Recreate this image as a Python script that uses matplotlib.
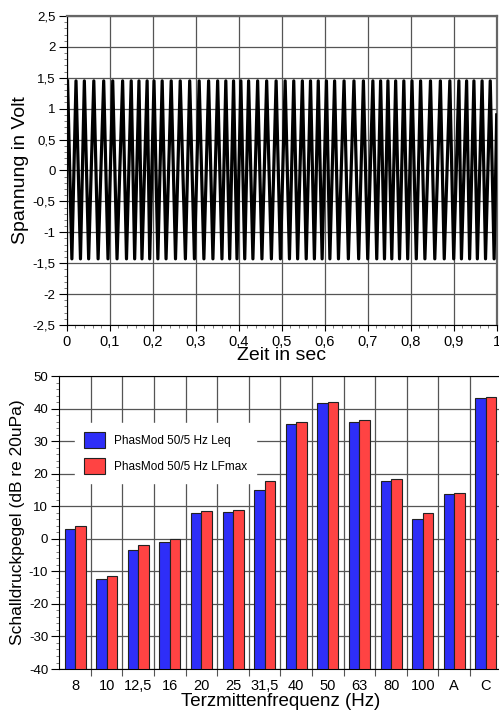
import numpy as np
import matplotlib
matplotlib.use("Agg")
import matplotlib.pyplot as plt
from matplotlib.ticker import MultipleLocator, FuncFormatter, FixedLocator
from matplotlib.patches import Patch

plt.rcParams["font.family"] = ["Liberation Sans", "DejaVu Sans"]
plt.rcParams["axes.unicode_minus"] = False

# top chart: peaks / troughs of the signal (seconds)
peak_times = [0.002, 0.0216, 0.041, 0.063, 0.086, 0.107, 0.130, 0.150, 0.168, 0.187,
              0.203, 0.222, 0.243, 0.264, 0.286, 0.308, 0.330, 0.351, 0.370, 0.388,
              0.405, 0.423, 0.444, 0.465, 0.487, 0.508, 0.528, 0.548, 0.567, 0.585,
              0.604, 0.623, 0.645, 0.668, 0.690, 0.712, 0.730, 0.747, 0.765, 0.784,
              0.803, 0.823, 0.846, 0.869, 0.891, 0.912, 0.930, 0.947, 0.966, 0.985]
trough_times = [0.012, 0.032, 0.051, 0.073, 0.096, 0.117, 0.139, 0.158, 0.175, 0.193,
                0.212, 0.231, 0.253, 0.276, 0.297, 0.319, 0.340, 0.361, 0.379, 0.396,
                0.414, 0.433, 0.454, 0.476, 0.497, 0.518, 0.537, 0.557, 0.576, 0.594,
                0.612, 0.632, 0.655, 0.679, 0.700, 0.721, 0.739, 0.756, 0.774, 0.793,
                0.813, 0.833, 0.856, 0.878, 0.900, 0.918, 0.937, 0.955, 0.974, 0.994]
peak_volt = 1.45
trough_volt = -1.43
end_time, end_volt = 1.0, 0.9

# bottom chart
categories = ["8", "10", "12,5", "16", "20", "25", "31,5", "40", "50", "63", "80", "100", "A", "C"]
leq = [2.9, -12.2, -3.5, -1.1, 7.8, 8.1, 15.1, 35.4, 41.7, 36.0, 17.7, 6.2, 13.8, 43.1]
lfmax = [3.9, -11.5, -2.0, -0.2, 8.4, 8.9, 17.7, 35.8, 42.1, 36.5, 18.4, 7.8, 14.2, 43.6]
labels = ["PhasMod 50/5 Hz Leq", "PhasMod 50/5 Hz LFmax"]

comma = FuncFormatter(lambda v, p: ("%g" % round(v, 3)).replace(".", ","))
grid_col = "#555555"

fig = plt.figure(figsize=(4.99, 7.10), dpi=100)

# ---- top: time signal
ax1 = fig.add_axes([0.1337, 0.5423, 0.8617, 0.4352])
t = []
v = []
for pk, tr in zip(peak_times, trough_times):
    t += [pk, tr]
    v += [peak_volt, trough_volt]
t.append(end_time)
v.append(end_volt)
ax1.plot(t, v, color="black", lw=2.3, zorder=3)
ax1.set_xlim(0, 1)
ax1.set_ylim(-2.5, 2.5)
ax1.xaxis.set_major_locator(MultipleLocator(0.1))
ax1.xaxis.set_minor_locator(MultipleLocator(0.02))
ax1.yaxis.set_major_locator(MultipleLocator(0.5))
ax1.yaxis.set_minor_locator(MultipleLocator(0.1))
ax1.xaxis.set_major_formatter(comma)
ax1.yaxis.set_major_formatter(comma)
ax1.grid(True, which="major", color=grid_col, lw=0.9)
ax1.tick_params(axis="x", which="major", labelsize=10.5, length=4, direction="out", pad=3)
ax1.tick_params(axis="y", which="major", labelsize=9.5, length=6, direction="out", pad=2)
ax1.tick_params(which="minor", length=2.5, direction="out", color="#666666")
ax1.set_xlabel("Zeit in sec", fontsize=14, labelpad=-1)
ax1.set_ylabel("Spannung in Volt", fontsize=14)
ax1.yaxis.set_label_coords(-0.088, 0.5)
ax1.spines["top"].set_color("#666666")
ax1.spines["top"].set_linewidth(1.6)
ax1.spines["right"].set_color("#666666")
ax1.spines["right"].set_linewidth(1.6)

# ---- bottom: third-octave levels
ax2 = fig.add_axes([0.1188, 0.0577, 0.8866, 0.4127])
x = np.arange(len(categories))
w = 0.33
ax2.bar(x - w / 2, np.array(leq) + 40, w, bottom=-40, color="#2e2ef8",
        edgecolor="#222222", lw=0.8, zorder=3, label=labels[0])
ax2.bar(x + w / 2, np.array(lfmax) + 40, w, bottom=-40, color="#ff4343",
        edgecolor="#222222", lw=0.8, zorder=3, label=labels[1])
ax2.set_xlim(-0.5, len(categories) - 0.5)
ax2.set_ylim(-40, 50)
ax2.yaxis.set_major_locator(MultipleLocator(10))
ax2.yaxis.set_minor_locator(MultipleLocator(2))
ax2.xaxis.set_major_locator(FixedLocator(x[:-1] + 0.5))
ax2.xaxis.set_minor_locator(FixedLocator(x))
ax2.xaxis.set_major_formatter(FuncFormatter(lambda v, p: ""))
ax2.xaxis.set_minor_formatter(FuncFormatter(lambda v, p: categories[int(round(v))]))
ax2.tick_params(axis="x", which="minor", length=0, labelsize=10.5, pad=7)
ax2.tick_params(axis="x", which="major", length=5, direction="out", color=grid_col)
ax2.tick_params(axis="y", which="major", labelsize=9.5, length=6, direction="out", pad=2)
ax2.tick_params(axis="y", which="minor", length=2.5, direction="out", color="#666666")
ax2.grid(True, which="major", color=grid_col, lw=0.9, zorder=0)
ax2.set_axisbelow(True)
ax2.set_xlabel("Terzmittenfrequenz (Hz)", fontsize=13.5, labelpad=0)
ax2.set_ylabel("Schalldruckpegel (dB re 20uPa)", fontsize=12.5)
ax2.yaxis.set_label_coords(-0.078, 0.5)
ax2.spines["right"].set_visible(False)

handles = [Patch(facecolor="#2e2ef8", edgecolor="#222222", lw=0.8),
           Patch(facecolor="#ff4343", edgecolor="#222222", lw=0.8)]
leg = ax2.legend(handles, labels, loc="upper left", bbox_to_anchor=(0.0355, 0.8396),
                 fontsize=8.5, frameon=True, fancybox=False, borderaxespad=0,
                 borderpad=0.75, handlelength=1.8, handleheight=1.75,
                 handletextpad=0.75, labelspacing=0.8)
leg.get_frame().set_facecolor("white")
leg.get_frame().set_edgecolor("white")
leg.get_frame().set_alpha(1)
leg.set_zorder(5)

fig.savefig("out.png", dpi=100)
